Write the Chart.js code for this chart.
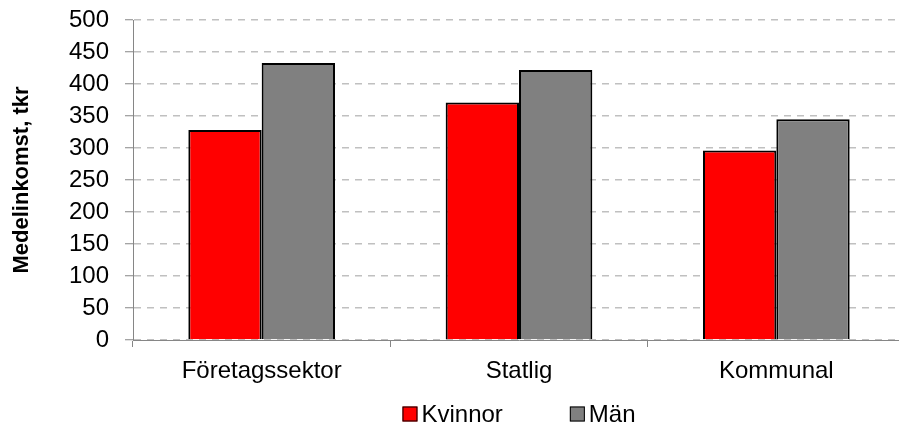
<!DOCTYPE html>
<html>
<head>
<meta charset="utf-8">
<script src="https://cdn.jsdelivr.net/npm/chart.js@4.4.0/dist/chart.umd.min.js"></script>
<style>
  html, body { margin: 0; padding: 0; background: #fff; overflow: hidden; }
  #wrap { width: 910px; height: 429px; }
</style>
</head>
<body>
<div id="wrap"><canvas id="incomeChart"></canvas></div>
<script>
  // Sektorer och medelinkomst (tkr)
  const sectors = ["Företagssektor", "Statlig", "Kommunal"];
  const women = [328, 371, 296];
  const men = [433, 422, 345];
  const yTicks = [0, 50, 100, 150, 200, 250, 300, 350, 400, 450, 500];

  const axisGray = "#868686";
  const font = { family: "'Liberation Sans', Arial, sans-serif", size: 24 };

  // enkel legend under diagrammet
  const bottomLegend = {
    id: 'bottomLegend',
    afterDraw(chart) {
      const ctx = chart.ctx;
      const items = chart.data.datasets.map(d => ({ text: d.label, color: d.backgroundColor }));
      ctx.save();
      ctx.font = font.size + "px " + font.family;
      ctx.textBaseline = 'middle';
      const box = 15, gap = 4, spacing = 67;
      const widths = items.map(it => box + gap + ctx.measureText(it.text).width);
      const total = widths.reduce((a, b) => a + b, 0) + spacing * (items.length - 1);
      const area = chart.chartArea;
      let x = (area.left + area.right) / 2 - total / 2;
      const y = 414;
      items.forEach((it, i) => {
        ctx.fillStyle = it.color;
        ctx.fillRect(x, y - box / 2, box, box);
        ctx.strokeStyle = "#000";
        ctx.lineWidth = 1;
        ctx.strokeRect(x + 0.5, y - box / 2 + 0.5, box - 1, box - 1);
        ctx.fillStyle = "#000";
        ctx.fillText(it.text, x + box + gap, y + 1);
        x += widths[i] + spacing;
      });
      ctx.restore();
    }
  };

  const ctx = document.getElementById('incomeChart').getContext('2d');
  new Chart(ctx, {
    type: 'bar',
    data: {
      labels: sectors,
      datasets: [
        {
          label: 'Kvinnor',
          data: women,
          backgroundColor: "#ff0000",
          borderColor: "#000000",
          borderWidth: 2,
          categoryPercentage: 0.57,
          barPercentage: 1.0,
        },
        {
          label: 'Män',
          data: men,
          backgroundColor: "#808080",
          borderColor: "#000000",
          borderWidth: 2,
          categoryPercentage: 0.57,
          barPercentage: 1.0,
        }
      ]
    },
    options: {
      responsive: true,
      maintainAspectRatio: false,
      animation: false,
      layout: { padding: { top: 20, right: 5, bottom: 44, left: 0 } },
      plugins: {
        legend: { display: false },
        tooltip: { enabled: false }
      },
      scales: {
        x: {
          grid: {
            offset: true,
            drawOnChartArea: false,
            color: axisGray,
            tickLength: 7
          },
          border: { color: axisGray, width: 1 },
          ticks: { color: "#000", font: font, padding: 10 },
          afterFit: s => { s.height = 45; s.paddingLeft = 0; s.paddingRight = 0; }
        },
        y: {
          min: 0,
          max: 500,
          afterBuildTicks: s => { s.ticks = yTicks.map(v => ({ value: v })); },
          grid: {
            color: "#c0c0c0",
            lineWidth: 1.5,
            tickColor: axisGray,
            tickWidth: 1,
            tickLength: 8
          },
          border: { color: axisGray, width: 1, dash: [7, 6] },
          ticks: { color: "#000", font: font, padding: 16, autoSkip: false },
          title: {
            display: true,
            text: 'Medelinkomst, tkr',
            color: "#000",
            font: { family: "'Liberation Sans', Arial, sans-serif", size: 22, weight: 'bold' },
            padding: { top: 9, bottom: 0 }
          },
          afterFit: s => { s.width = 133; s.paddingTop = 0; s.paddingBottom = 0; }
        }
      }
    },
    plugins: [bottomLegend]
  });
</script>
</body>
</html>
